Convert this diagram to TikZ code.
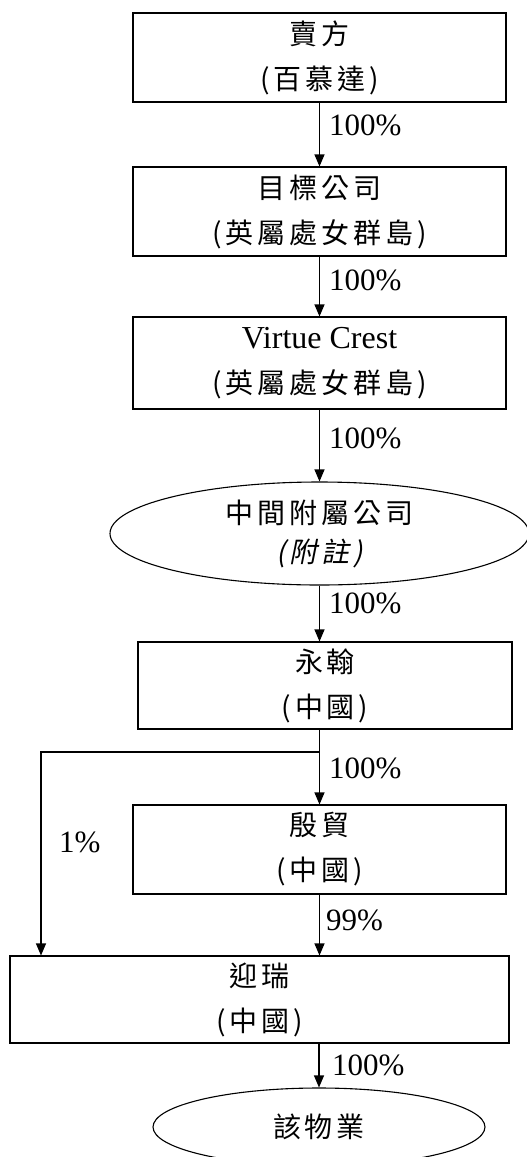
\documentclass[tikz,border=0pt]{standalone}
\usepackage{fontspec}
\setmainfont{Liberation Serif}
\newfontfamily\cjk[LetterSpace=14]{Noto Sans CJK TC}
\newfontfamily\cjkit[LetterSpace=14,FakeSlant=0.2]{Noto Sans CJK TC}
\usetikzlibrary{arrows.meta,shapes.geometric}
\tikzset{
  box/.style={draw, line width=1.1pt, rectangle, inner sep=0pt, align=center,
    font=\fontsize{28}{45}\selectfont\cjk},
  oval/.style={draw, line width=1.1pt, ellipse, inner sep=0pt, align=center,
    font=\fontsize{28}{39}\selectfont\cjk},
  pct/.style={anchor=west, inner sep=0pt, font=\fontsize{31}{31}\selectfont},
  arr/.style={-{Triangle[length=12pt,width=10pt]}, line width=1.1pt},
  ln/.style={line width=1.1pt},
}
\begin{document}
\begin{tikzpicture}[x=1pt,y=-1pt]
\useasboundingbox (0,0) rectangle (527,1157);
\node[box, minimum width=373pt, minimum height=89pt] (b1) at (319.5,57.5) {賣方\\(百慕達)};
\node[box, minimum width=373pt, minimum height=89pt] (b2) at (319.5,211.5) {目標公司\\(英屬處女群島)};
\node[box, minimum width=373pt, minimum height=92pt] (b3) at (319.5,363) {{\fontsize{32}{32}\selectfont\rmfamily Virtue Crest}\\(英屬處女群島)};
\node[oval, minimum width=419pt, minimum height=103pt] (e1) at (319.5,533.5) {中間附屬公司\\{\cjkit (附註)}};
\node[box, minimum width=374pt, minimum height=87pt] (b4) at (325,685.5) {永翰\\(中國)};
\node[box, minimum width=373pt, minimum height=89pt] (b5) at (319.5,849.5) {殷貿\\(中國)};
\node[box, minimum width=499pt, minimum height=87pt] (b6) at (259.5,999.5) {迎瑞\\(中國)};
\node[oval, minimum width=332pt, minimum height=78pt] (e2) at (319,1127) {該物業};
\coordinate (j) at (319.5,752);
\coordinate (k) at (41,752);
\draw[arr] (b1.south) -- (b2.north);
\draw[arr] (b2.south) -- (b3.north);
\draw[arr] (b3.south) -- (e1.north);
\draw[arr] (e1.south) -- (e1.south |- b4.north);
\draw[arr] (b4.south -| j) -- (b5.north);
\draw[arr] (j) -- (k) -- (k |- b6.north);
\draw[arr] (b5.south) -- (b5.south |- b6.north);
\draw[arr] (b6.south -| e2.north) -- (e2.north);
\node[pct] (l1) at (329,125) {100\%};
\node[pct] (l2) at (329,280) {100\%};
\node[pct] (l3) at (329,438) {100\%};
\node[pct] (l4) at (329,603) {100\%};
\node[pct] (l5) at (329,768) {100\%};
\node[pct] (l6) at (59,842) {1\%};
\node[pct] (l7) at (326,920) {99\%};
\node[pct] (l8) at (332,1065) {100\%};
\end{tikzpicture}
\end{document}
